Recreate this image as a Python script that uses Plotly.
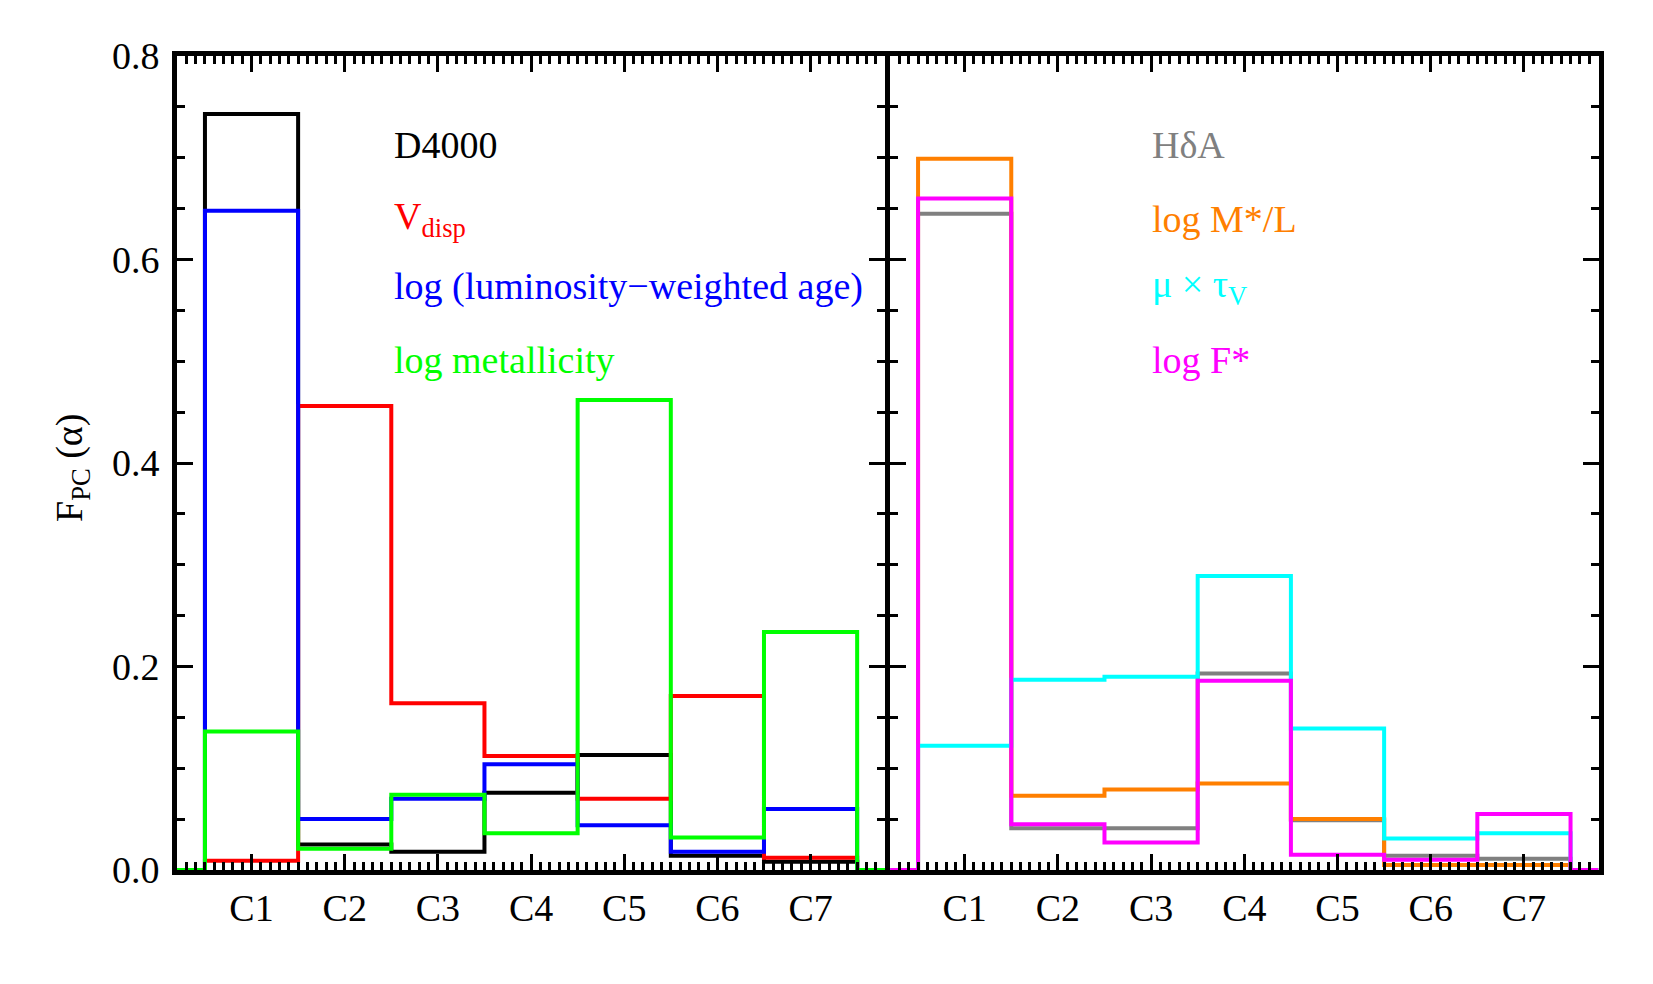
import plotly.graph_objects as go

# classes C1..C7
clusters = ["C1", "C2", "C3", "C4", "C5", "C6", "C7"]
centers = [1, 2, 3, 4, 5, 6, 7]

# left panel
d4000 = [0.743, 0.025, 0.018, 0.076, 0.113, 0.014, 0.008]
vdisp = [0.009, 0.456, 0.164, 0.112, 0.070, 0.171, 0.012]
lw_age = [0.648, 0.050, 0.070, 0.104, 0.044, 0.018, 0.060]
metal = [0.136, 0.021, 0.074, 0.036, 0.462, 0.032, 0.234]

# right panel
hda = [0.645, 0.041, 0.041, 0.193, 0.049, 0.014, 0.011]
msl = [0.699, 0.073, 0.079, 0.085, 0.050, 0.005, 0.005]
mutau = [0.122, 0.187, 0.190, 0.289, 0.139, 0.031, 0.036]
logf = [0.660, 0.045, 0.027, 0.186, 0.015, 0.010, 0.055]

XR = [0.2, 7.8]
FONT = "Liberation Serif"
W, H = 1653, 984
LW = 5    # axis line width
OFF = 8   # page body margin

left_series = [
    ("D4000", d4000, "black"),
    ("V<sub>disp</sub>", vdisp, "#ff0000"),
    ("log (luminosity\u2212weighted age)", lw_age, "#0000ff"),
    ("log metallicity", metal, "#00ff00"),
]
right_series = [
    ("H\u03b4A", hda, "#808080"),
    ("log M*/L", msl, "#ff7f00"),
    ("\u03bc \u00d7 \u03c4<sub>V</sub>", mutau, "#00ffff"),
    ("log F*", logf, "#ff00ff"),
]


def step_xy(vals):
    # histogram outline: edges at c-0.5, zero outside the bins
    xs = [XR[0]] + [c - 0.5 for c in centers] + [centers[-1] + 0.5, XR[1]]
    ys = [0] + list(vals) + [0, 0]
    return xs, ys


fig = go.Figure()
for xa, ya, series in [("x", "y", left_series), ("x2", "y2", right_series)]:
    for name, vals, col in series:
        xs, ys = step_xy(vals)
        fig.add_trace(go.Scatter(
            x=xs, y=ys, mode="lines", line=dict(color=col, width=4, shape="hv"),
            xaxis=xa, yaxis=ya, showlegend=False, name=name))

# labels inside the panels
ann = []
ylab = [0.713, 0.640, 0.573, 0.501]
for (name, vals, col), yy in zip(left_series, ylab):
    ann.append(dict(x=2.51, y=yy, xref="x", yref="y", text=name, showarrow=False,
                    xanchor="left", yanchor="middle", font=dict(color=col, size=38, family=FONT)))
for (name, vals, col), yy in zip(right_series, ylab):
    ann.append(dict(x=2.99, y=yy, xref="x2", yref="y2", text=name, showarrow=False,
                    xanchor="left", yanchor="middle", font=dict(color=col, size=38, family=FONT)))
ann.append(dict(x=(72 - OFF) / W, y=1 - (468 - OFF) / H, xref="paper", yref="paper",
                xanchor="center", yanchor="middle",
                text="F<sub>PC</sub> (\u03b1)", showarrow=False, textangle=-90,
                font=dict(size=38, family=FONT, color="black")))

xax = dict(range=XR, tickvals=centers, ticktext=clusters, ticks="inside", ticklen=16,
           tickwidth=3, tickcolor="black", mirror="allticks", showline=True, linewidth=LW,
           linecolor="black", showgrid=False, zeroline=False, ticklabelstandoff=0,
           automargin=False, tickfont=dict(size=38, family=FONT, color="black"),
           minor=dict(ticks="inside", dtick=0.1, tick0=0, ticklen=8, tickwidth=3,
                      tickcolor="black", showgrid=False))
yax = dict(range=[0, 0.8], dtick=0.2, tickformat=".1f", ticks="inside", ticklen=16,
           tickwidth=3, tickcolor="black", mirror="allticks", showline=True, linewidth=LW,
           linecolor="black", showgrid=False, zeroline=False, automargin=False,
           ticklabelstandoff=5, tickfont=dict(size=38, family=FONT, color="black"),
           minor=dict(ticks="inside", dtick=0.05, ticklen=8, tickwidth=3,
                      tickcolor="black", showgrid=False))

x0, xm, x1 = 177 - OFF, 887.6 - OFF, 1598.5 - OFF
ytop, ybot = 56 - OFF, 870 - OFF
fig.update_layout(
    width=W, height=H,
    margin=dict(l=0, r=0, t=0, b=0),
    plot_bgcolor="white", paper_bgcolor="white",
    xaxis=dict(xax, domain=[x0 / W, (xm - LW / 2) / W], anchor="y"),
    xaxis2=dict(xax, domain=[(xm + LW / 2) / W, x1 / W], anchor="y2"),
    yaxis=dict(yax, domain=[1 - ybot / H, 1 - ytop / H], anchor="x"),
    yaxis2=dict(yax, domain=[1 - ybot / H, 1 - ytop / H], anchor="x2", showticklabels=False),
    annotations=ann,
)

fig.write_html("out.html")
